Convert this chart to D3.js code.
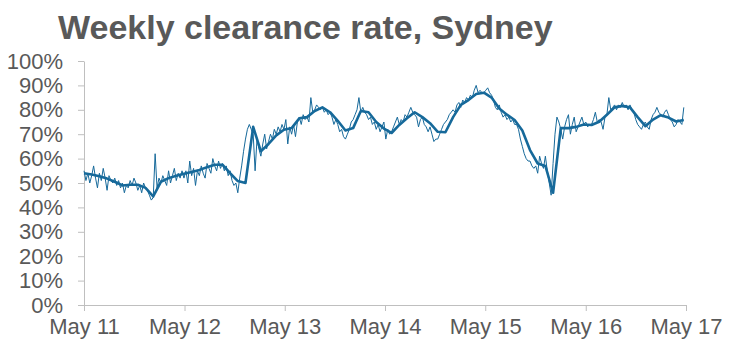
<!DOCTYPE html>
<html>
<head>
<meta charset="utf-8">
<script src="https://cdn.jsdelivr.net/npm/d3@7"></script>
<style>
    body { margin: 0; background: #fff; }
    .axis path, .axis line { stroke: #bfbfbf; }
    .axis text { fill: #595959; font-family: "Liberation Sans", Arial, sans-serif; font-size: 22px; }
</style>
</head>
<body>
<div id="chart"></div>
<script>
// weekly clearance rate (%), one value per week from May 2011
const weekly = [
    55, 51, 54, 50, 53, 57, 52, 48, 54, 51, 56, 52, 47, 53, 51, 50, 52, 49, 51, 48,
    50, 46, 49, 48, 51, 49, 52, 50, 47, 49, 46, 50, 48, 47, 45, 43, 44, 62, 48, 52,
    50, 53, 51, 49, 55, 50, 53, 56, 51, 54, 52, 55,
    52, 55, 50, 59, 53, 56, 49, 55, 53, 57, 54, 52, 58, 56, 54, 60, 57, 55, 59, 56,
    58, 55, 57, 53, 55, 51, 49, 50, 46, 52, 57, 63, 68, 72, 74, 72, 70, 55, 68, 64,
    61, 66, 70, 64, 67, 70, 68, 72, 70, 73, 71, 74,
    72, 76, 66, 73, 70, 74, 69, 75, 77, 74, 78, 76, 77, 75, 85, 79, 80, 82, 81, 80,
    81, 79, 80, 78, 79, 77, 74, 76, 74, 71, 72, 69, 68, 70, 72, 75, 76, 78, 80, 85,
    79, 81, 79, 78, 76, 77, 74, 75, 72, 74, 71, 73,
    75, 68, 72, 70, 71, 73, 75, 77, 74, 76, 75, 78, 77, 79, 81, 79, 78, 77, 73, 76,
    77, 74, 73, 71, 73, 70, 67, 68, 68, 70, 72, 74, 75, 76, 78, 79, 80, 79, 82, 83,
    81, 84, 83, 85, 84, 86, 85, 88, 90, 87, 88, 87,
    87, 88, 89, 87, 86, 84, 81, 80, 82, 79, 77, 78, 76, 77, 75, 76, 74, 74, 72, 68,
    65, 62, 60, 59, 59, 57, 56, 57, 54, 61, 58, 56, 61, 55, 50, 45, 58, 70, 77, 75,
    72, 68, 73, 76, 78, 70, 74, 77, 71, 73, 75, 77,
    74, 75, 73, 74, 74, 76, 79, 75, 76, 75, 72, 77, 78, 85, 80, 81, 82, 80, 82, 81,
    83, 81, 82, 80, 82, 80, 79, 76, 74, 73, 72, 74, 75, 73, 72, 76, 78, 79, 81, 79,
    78, 77, 79, 80, 78, 76, 75, 73, 74, 76, 75, 74, 81
];

// smoothed rate (%), one value every four weeks
const smoothed = [
    54, 53.5, 52.8, 51.8, 50.5, 49, 49.3, 49.3, 48, 44.5, 50.5, 52, 53,
    53.8, 54.5, 55.3, 56.5, 57.5, 57.5, 54, 50.8, 50, 73, 63, 66, 69.5,
    71.8, 72.5, 76.5, 77, 79.5, 81, 79, 75.5, 71.5, 72.5, 79.5, 79, 75,
    72.3, 70.5, 73.8, 76.5, 79, 77, 74.5, 71, 70.8, 77, 82, 84, 86.5,
    87, 85, 80.5, 78, 75.8, 71.5, 63.5, 58, 57, 46, 72.5, 72.5, 73,
    74, 73.8, 75.1, 78, 81, 81.6, 81, 77, 73.3, 76, 77.8, 76.8, 75.2, 75.8
];

const startDate = new Date(2011, 4, 1);
const endDate = new Date(2017, 4, 1);
const yTicks = [0, 10, 20, 30, 40, 50, 60, 70, 80, 90, 100];
const xTicks = [2011, 2012, 2013, 2014, 2015, 2016, 2017].map(y => new Date(y, 4, 1));

const margin = { top: 61, right: 43, bottom: 48, left: 84 },
    width = 729 - margin.left - margin.right,
    height = 353 - margin.top - margin.bottom;

const svgRoot = d3.select("#chart")
    .append("svg")
    .attr("width", 729)
    .attr("height", 353);

svgRoot.append("text")
    .attr("x", 58)
    .attr("y", 39)
    .attr("font-family", "Liberation Sans, Arial, sans-serif")
    .attr("font-weight", "bold")
    .attr("font-size", 34)
    .attr("fill", "#595959")
    .text("Weekly clearance rate, Sydney");

const svg = svgRoot.append("g")
    .attr("transform", `translate(${margin.left},${margin.top})`);

const x = d3.scaleTime()
    .domain([startDate, endDate])
    .range([0, width]);

const y = d3.scaleLinear()
    .domain([0, 100])
    .range([height, 0]);

svg.append("g")
    .attr("class", "axis y-axis")
    .call(d3.axisLeft(y).tickValues(yTicks).tickSize(6).tickSizeOuter(0).tickPadding(15).tickFormat(d => d + "%"));

svg.append("g")
    .attr("class", "axis x-axis")
    .attr("transform", `translate(0,${height})`)
    .call(d3.axisBottom(x).tickValues(xTicks).tickSize(6).tickSizeOuter(0).tickPadding(7).tickFormat(d3.timeFormat("%b %y")));

svg.selectAll(".axis .domain").attr("stroke", "#bfbfbf");

const weeklyData = weekly.map((v, i) => ({ date: d3.timeDay.offset(startDate, i * 7), value: v }));
const smoothData = smoothed.map((v, i) => ({ date: d3.timeDay.offset(startDate, i * 28), value: v }));

const line = d3.line()
    .x(d => x(d.date))
    .y(d => y(d.value));

svg.append("path")
    .datum(weeklyData)
    .attr("fill", "none")
    .attr("stroke", "#16699a")
    .attr("stroke-width", 1)
    .attr("d", line);

// linea gruesa: promedio suavizado
svg.append("path")
    .datum(smoothData)
    .attr("fill", "none")
    .attr("stroke", "#16699a")
    .attr("stroke-width", 2.6)
    .attr("stroke-linejoin", "round")
    .attr("d", line);
</script>
</body>
</html>
